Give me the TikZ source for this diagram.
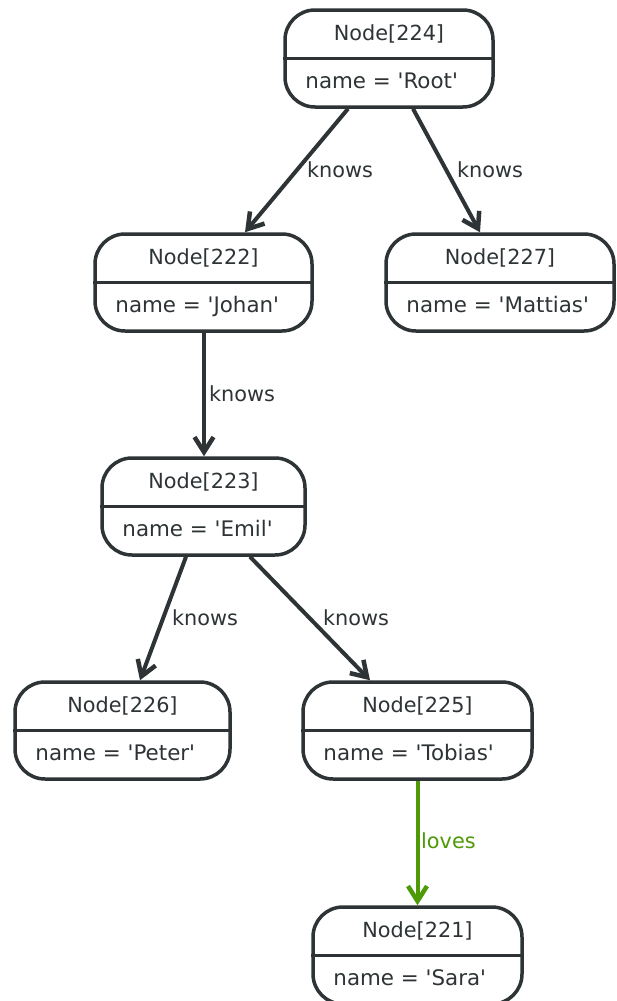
\documentclass[tikz,border=0pt]{standalone}
\usepackage{fontspec}
\setmainfont{DejaVu Sans}
\usetikzlibrary{arrows.meta,fit}
\definecolor{ink}{HTML}{2E3436}
\definecolor{lovegreen}{HTML}{4E9A06}
\newcommand\sq{\textquotesingle}
\tikzset{
  gbox/.style={draw=ink, line width=3.5pt, rounded corners=30pt, inner sep=0pt, fill=white},
  gdiv/.style={draw=ink, line width=3.5pt},
  gtext/.style={inner sep=0pt, text=ink, font=\fontsize{20.8}{25}\selectfont},
  gtitle/.style={gtext, anchor=base},
  gprop/.style={gtext, anchor=base west, font=\fontsize{21.4}{25}\selectfont},
  rel/.style={draw=ink, line width=4pt, -{Straight Barb[length=15pt,width=19pt,line width=4.5pt]}},
  lovesrel/.style={rel, draw=lovegreen},
  rlabel/.style={gtext, anchor=base west},
  lovelabel/.style={rlabel, text=lovegreen},
}
\newcommand\gnode[6]{%
  \node[gbox, fit={(#2,#3) (#4,#3+97)}] (#1) {};
  \draw[gdiv] (#1.west) -- (#1.east);
  \node[gtitle] (#1-t) at ([yshift=-32pt]#1.north) {#5};
  \node[gprop] (#1-p) at ([xshift=22pt,yshift=-80pt]#1.north west) {#6};
}
\begin{document}
\begin{tikzpicture}[x=1pt, y=-1pt]
\useasboundingbox[fill=white] (0,0) rectangle (616,1001);
\gnode{n224}{285}{10}{493}{Node[224]}{name = \sq Root\sq}
\gnode{n222}{95}{234}{312}{Node[222]}{name = \sq Johan\sq}
\gnode{n227}{386}{234}{614}{Node[227]}{name = \sq Mattias\sq}
\gnode{n223}{102}{458}{305}{Node[223]}{name = \sq Emil\sq}
\gnode{n226}{15}{682}{230}{Node[226]}{name = \sq Peter\sq}
\gnode{n225}{303}{682}{532}{Node[225]}{name = \sq Tobias\sq}
\gnode{n221}{313}{907}{522}{Node[221]}{name = \sq Sara\sq}

\draw[rel] ([xshift=-41pt]n224.south) -- ([xshift=41.5pt]n222.north);
\draw[rel] ([xshift=24pt]n224.south) -- ([xshift=-20pt]n227.north);
\draw[rel] ([xshift=0.5pt]n222.south) -- ([xshift=0.5pt]n223.north);
\draw[rel] ([xshift=-17.5pt]n223.south) -- ([xshift=17.5pt]n226.north);
\draw[rel] ([xshift=46.5pt]n223.south) -- ([xshift=-47.5pt]n225.north);
\draw[lovesrel] (n225.south) -- (n221.north);

\node[rlabel] (l1) at (307,177) {knows};
\node[rlabel] (l2) at (457,177) {knows};
\node[rlabel] (l3) at (209,401) {knows};
\node[rlabel] (l4) at (172,625) {knows};
\node[rlabel] (l5) at (323,625) {knows};
\node[lovelabel] (l6) at (421,848) {loves};
\end{tikzpicture}
\end{document}
